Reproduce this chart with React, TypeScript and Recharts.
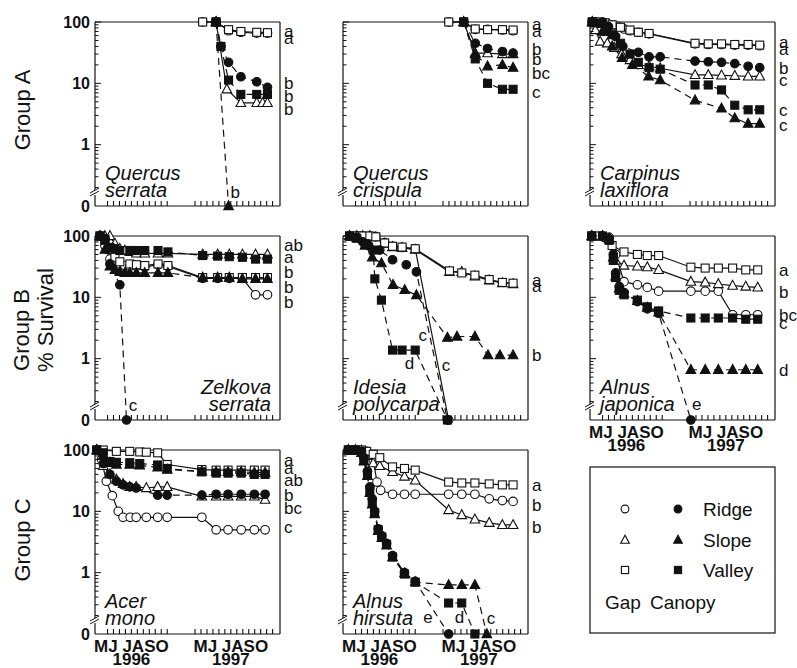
import React from "react";
import { LineChart, Line, XAxis, YAxis, ReferenceDot } from "recharts";

type Pt = [number, number];
type Letter = [number, string];
type Note = [number, number, string];

// x is the plotted month: 1996 May = 5 ... Oct = 10. The winter is squeezed,
// so 1997 months sit at (month + 8.33), e.g. 1997 May = 13.33.
// y is % survival; 0 is drawn at the axis break (the 0.1 position of the log axis).
const xTicks = [
  5.5, 6, 6.5, 7, 7.5, 8, 8.5, 9, 9.5, 10, 10.5,
  12.83, 13.33, 13.83, 14.33, 14.83, 15.33, 15.83, 16.33, 16.83, 17.33, 17.83, 18.33, 18.83, 19.33,
];
const monthLabel = "MJ JASO";
const yearLabels = ["1996", "1997"];
const yearTickPos = [7.5, 15.83];
const yTicks = [
  0.1, 0.2, 0.3, 0.4, 0.5, 0.6, 0.7, 0.8, 0.9,
  1, 2, 3, 4, 5, 6, 7, 8, 9,
  10, 20, 30, 40, 50, 60, 70, 80, 90, 100,
];
const groupLabels = ["Group A", "Group B", "Group C"];
const yTitle = "% Survival";
const legendRows = ["Ridge", "Slope", "Valley"];
const legendFoot = ["Gap", "Canopy"];

// ---- Group A: Quercus serrata
const qsGapRidge: Pt[] = [[13.47, 100], [14.59, 100], [15.64, 72], [16.67, 68], [18.0, 66], [18.9, 66]];
const qsGapSlope: Pt[] = [[14.59, 100], [15.5, 8], [16.67, 4.8], [18.0, 4.8], [18.5, 4.8], [18.9, 4.8]];
const qsGapValley: Pt[] = [[13.47, 100], [14.59, 100], [15.64, 75], [16.67, 70], [18.0, 68], [18.9, 67]];
const qsCanRidge: Pt[] = [[14.59, 100], [15.0, 40], [15.64, 22], [16.67, 12.8], [18.0, 10.6], [18.9, 8.6]];
const qsCanSlope: Pt[] = [[14.59, 100], [15.64, 0]];
const qsCanValley: Pt[] = [[14.59, 100], [15.0, 40], [15.64, 11.3], [16.67, 6.6], [18.0, 6.6], [18.9, 6.6]];
const qsLetters: Letter[] = [[72, "a"], [56, "a"], [10, "b"], [6.2, "b"], [3.9, "b"]];
const qsNotes: Note[] = [[16.2, 0.17, "b"]];

// ---- Group A: Quercus crispula
const qcGapRidge: Pt[] = [[13.31, 100], [14.56, 100], [15.53, 76], [16.56, 76], [17.81, 74], [18.7, 72]];
const qcGapSlope: Pt[] = [[14.56, 100], [15.53, 31], [16.56, 31], [17.81, 30], [18.7, 30]];
const qcGapValley: Pt[] = [[13.31, 100], [14.56, 100], [15.53, 77], [16.56, 75], [17.81, 75], [18.7, 74]];
const qcCanRidge: Pt[] = [[14.56, 100], [15.53, 45], [16.56, 37], [17.81, 33], [18.7, 31]];
const qcCanSlope: Pt[] = [[14.56, 100], [15.53, 30], [16.56, 19], [17.81, 20], [18.7, 18]];
const qcCanValley: Pt[] = [[14.56, 100], [15.53, 25], [16.56, 10], [17.81, 8], [18.7, 8]];
const qcLetters: Letter[] = [[92, "a"], [72, "a"], [37, "b"], [24.6, "b"], [15, "bc"], [7.3, "c"]];

// ---- Group A: Carpinus laxiflora
const clGapRidge: Pt[] = [[4.64, 100], [5.0, 100], [5.5, 98], [5.9, 95], [6.3, 90], [6.75, 85], [7.3, 77], [7.8, 72], [8.5, 68], [9.4, 64], [13.25, 44], [14.36, 43], [15.47, 43], [16.58, 42], [17.7, 42], [18.67, 41]];
const clGapSlope: Pt[] = [[4.64, 100], [4.9, 74], [5.3, 48], [5.9, 45], [6.5, 38], [7.1, 30], [7.8, 24], [8.5, 20], [9.4, 19], [10.33, 17.6], [13.25, 13.7], [14.36, 13.7], [15.47, 13.5], [16.58, 13.3], [17.7, 13], [18.67, 13]];
const clGapValley: Pt[] = [[4.64, 100], [5.2, 100], [5.7, 97], [6.3, 90], [7.0, 82], [7.8, 74], [8.5, 68], [9.4, 65], [13.25, 45], [14.36, 44], [15.47, 44], [16.58, 43], [17.7, 43], [18.67, 42]];
const clCanRidge: Pt[] = [[4.64, 100], [5.5, 100], [6.0, 84], [6.6, 58], [7.2, 40], [8.5, 32], [9.4, 27], [10.33, 27], [13.25, 23], [14.36, 22.5], [15.47, 22], [16.58, 21], [17.7, 19], [18.67, 18]];
const clCanSlope: Pt[] = [[4.64, 100], [5.48, 70], [6.31, 40], [7.14, 26], [8.0, 20], [9.36, 13], [10.33, 11.3], [13.25, 5.3], [15.47, 3.9], [16.58, 2.7], [17.7, 2.2], [18.67, 2.2]];
const clCanValley: Pt[] = [[4.64, 100], [5.3, 95], [5.8, 70], [6.3, 62], [7.0, 45], [7.8, 30], [8.5, 22], [9.4, 18], [10.33, 17], [13.25, 9.4], [14.36, 9.4], [15.47, 7.8], [16.58, 4.4], [17.7, 3.7], [18.67, 3.7]];
const clLetters: Letter[] = [[47.7, "a"], [37, "a"], [17.6, "b"], [11.3, "c"], [3.7, "c"], [2.1, "c"]];

// ---- Group B: Zelkova serrata
const zsGapRidge: Pt[] = [[4.87, 100], [5.28, 70], [5.7, 42], [6.12, 40], [6.53, 35], [6.95, 33], [7.37, 32], [7.92, 32], [8.62, 31], [9.73, 34], [10.56, 32], [13.47, 20.4], [14.72, 20.4], [15.7, 20.4], [16.8, 20.4], [17.9, 11], [18.9, 11]];
const zsGapSlope: Pt[] = [[4.87, 100], [5.28, 100], [5.7, 100], [6.12, 75], [6.53, 62], [6.95, 58], [7.37, 55], [7.92, 52], [8.62, 52], [9.73, 52], [10.56, 52], [13.47, 50], [14.72, 50], [15.7, 50], [16.8, 50], [17.9, 50], [18.9, 50]];
const zsGapValley: Pt[] = [[4.87, 100], [5.28, 90], [5.7, 60], [6.12, 45], [6.53, 38], [7.37, 35], [7.92, 34], [8.62, 33], [9.73, 35], [10.56, 33], [13.47, 21], [14.72, 21], [15.7, 21], [16.8, 21], [17.9, 21], [18.9, 21]];
const zsCanRidge: Pt[] = [[4.87, 100], [5.28, 90], [5.7, 35], [6.53, 16], [7.09, 0]];
const zsCanSlope: Pt[] = [[4.87, 100], [5.28, 60], [5.7, 32], [6.12, 28], [6.53, 26], [6.95, 25], [7.37, 25], [7.92, 25], [8.62, 25], [9.73, 25], [10.56, 25], [13.47, 21], [14.72, 21], [15.7, 21], [16.8, 20], [17.9, 20], [18.9, 20]];
const zsCanValley: Pt[] = [[4.87, 100], [5.28, 85], [5.7, 65], [6.12, 62], [6.53, 58], [7.37, 58], [7.92, 58], [8.62, 58], [9.73, 58], [10.56, 55], [13.47, 48], [14.72, 47], [15.7, 46], [16.8, 45], [17.9, 42], [18.9, 42]];
const zsLetters: Letter[] = [[71, "ab"], [45, "a"], [26, "b"], [14.7, "b"], [8.4, "b"]];
const zsNotes: Note[] = [[7.64, 0.175, "c"]];

// ---- Group B: Idesia polycarpa
const ipGapRidge: Pt[] = [[5.0, 100], [5.6, 100], [6.1, 100], [6.7, 100], [7.2, 98], [7.94, 78], [8.6, 68], [9.4, 65], [10.5, 62], [13.3, 0]];
const ipGapSlope: Pt[] = [[5.0, 100], [5.6, 100], [6.1, 100], [6.7, 100], [7.2, 96], [7.94, 75], [8.6, 66], [9.4, 64], [10.5, 60], [13.37, 26], [14.4, 26], [15.5, 22], [16.7, 19], [17.8, 17], [18.7, 16.5]];
const ipGapValley: Pt[] = [[5.0, 100], [5.6, 100], [6.1, 100], [6.7, 100], [7.2, 97], [7.94, 77], [8.6, 68], [9.4, 66], [10.5, 62], [13.37, 27], [14.4, 25], [15.5, 23], [16.7, 19.5], [17.8, 17.5], [18.7, 17]];
const ipCanRidge: Pt[] = [[5.0, 100], [5.6, 95], [6.1, 80], [6.6, 70], [7.53, 59], [8.6, 41], [9.75, 34], [10.6, 26], [13.2, 0]];
const ipCanSlope: Pt[] = [[5.0, 100], [5.6, 92], [6.3, 70], [6.9, 45], [7.67, 36], [8.64, 16], [9.62, 13.2], [10.6, 10.9], [13.2, 2.2], [14.0, 2.3], [15.5, 2.3], [16.6, 1.14], [17.6, 1.14], [18.7, 1.14]];
const ipCanValley: Pt[] = [[5.0, 100], [5.6, 92], [6.3, 75], [6.98, 59], [7.12, 20], [7.67, 9], [8.6, 1.38], [9.4, 1.38], [10.5, 1.38], [13.2, 0]];
const ipLetters: Letter[] = [[19, "a"], [15.5, "a"], [1.14, "b"]];
const ipNotes: Note[] = [[11.14, 2.4, "c"], [13.09, 0.79, "c"], [10.03, 0.84, "d"]];

// ---- Group B: Alnus japonica
const ajGapRidge: Pt[] = [[4.6, 100], [5.5, 100], [6.06, 95], [6.6, 50], [7.3, 18], [8.42, 16], [9.25, 14.5], [10.2, 12.6], [12.9, 12.6], [14.1, 12.6], [15.2, 12.6], [16.4, 5.2], [17.5, 5.2], [18.5, 5.2]];
const ajGapSlope: Pt[] = [[4.6, 100], [5.5, 100], [6.06, 90], [6.6, 40], [7.3, 33], [8.42, 32], [9.25, 31], [10.2, 28], [12.9, 18], [14.1, 17.5], [15.2, 16.5], [16.4, 15.5], [17.5, 15], [18.5, 14.5]];
const ajGapValley: Pt[] = [[4.6, 100], [5.23, 100], [5.8, 95], [6.3, 70], [7.3, 55], [8.42, 50], [9.25, 48], [10.2, 48], [12.9, 31], [14.1, 30], [15.2, 30], [16.4, 30], [17.5, 28], [18.5, 28]];
const ajCanRidge: Pt[] = [[4.6, 100], [5.5, 100], [6.06, 90], [6.4, 50], [6.6, 25], [6.9, 15], [7.3, 12], [8.42, 8.5], [9.25, 6.5], [10.2, 5.5], [12.9, 0]];
const ajCanSlope: Pt[] = [[4.6, 100], [5.5, 100], [6.06, 88], [6.4, 45], [6.6, 22], [6.9, 14], [7.3, 11.5], [8.42, 8.8], [9.25, 6.8], [10.2, 5.7], [12.9, 0.66], [14.1, 0.66], [15.2, 0.66], [16.4, 0.66], [17.5, 0.66], [18.5, 0.66]];
const ajCanValley: Pt[] = [[4.6, 100], [5.5, 100], [6.06, 85], [6.4, 40], [6.6, 21], [6.9, 13], [7.3, 11], [8.42, 9], [9.25, 7], [10.2, 6], [12.9, 4.6], [14.1, 4.6], [15.2, 4.6], [16.4, 4.6], [17.5, 4.4], [18.5, 4.4]];
const ajLetters: Letter[] = [[27.7, "a"], [12.4, "b"], [5.2, "bc"], [3.9, "c"], [0.66, "d"]];
const ajNotes: Note[] = [[13.4, 0.18, "e"]];

// ---- Group C: Acer mono
const amGapRidge: Pt[] = [[4.6, 100], [5.0, 70], [5.4, 31], [5.9, 18], [6.4, 10], [6.8, 8], [7.4, 8], [7.9, 8], [8.75, 8], [9.7, 8], [10.5, 8], [13.4, 8], [14.6, 5], [15.6, 5], [16.7, 5], [17.8, 5], [18.7, 5]];
const amGapSlope: Pt[] = [[4.6, 100], [5.14, 55], [5.7, 40], [6.24, 33], [6.8, 28], [7.36, 25], [7.9, 25], [8.75, 24], [9.7, 25], [10.5, 25], [13.4, 17.5], [14.6, 17.5], [15.6, 17.5], [16.7, 17.5], [17.8, 17.5], [18.7, 15.5]];
const amGapValley: Pt[] = [[4.6, 100], [5.14, 100], [6.24, 95], [7.36, 95], [8.2, 93], [8.75, 92], [9.7, 90], [10.5, 58], [13.4, 48], [14.6, 47], [15.6, 47], [16.7, 47], [17.8, 47], [18.7, 47]];
const amCanRidge: Pt[] = [[4.6, 100], [5.14, 60], [5.7, 40], [6.24, 31], [6.8, 27], [7.36, 25], [7.9, 24], [9.7, 18.4], [10.5, 18.4], [13.4, 18.4], [14.6, 19], [15.6, 19], [16.7, 19], [17.8, 19], [18.7, 19]];
const amCanSlope: Pt[] = [[4.6, 100], [5.14, 80], [5.7, 62], [6.24, 58], [7.36, 58], [8.2, 56], [9.7, 52], [10.5, 48], [13.4, 45], [14.6, 44], [15.6, 44], [16.7, 44], [17.8, 43], [18.7, 43]];
const amCanValley: Pt[] = [[4.6, 100], [5.14, 90], [5.7, 65], [6.24, 63], [7.36, 62], [8.2, 60], [9.7, 57], [10.5, 50], [13.4, 44], [14.6, 42], [15.6, 42], [16.7, 42], [17.8, 40], [18.7, 40]];
const amLetters: Letter[] = [[69, "a"], [51, "a"], [32, "ab"], [18.4, "b"], [11.3, "bc"], [5.5, "c"]];

// ---- Group C: Alnus hirsuta
const ahGapRidge: Pt[] = [[4.9, 100], [5.5, 100], [6.0, 98], [6.43, 95], [6.98, 70], [7.3, 30], [7.6, 22], [8.6, 19], [9.6, 19], [10.5, 19], [13.3, 19], [14.4, 19], [15.5, 19], [16.7, 16], [17.8, 15], [18.7, 14.5]];
const ahGapSlope: Pt[] = [[4.9, 100], [5.5, 100], [6.0, 98], [6.43, 80], [6.98, 61], [7.53, 55], [8.6, 44], [9.6, 37], [10.5, 32], [13.3, 10.5], [14.4, 8.7], [15.5, 7.4], [16.7, 6.5], [17.8, 6], [18.7, 6]];
const ahGapValley: Pt[] = [[4.9, 100], [5.5, 100], [6.0, 100], [6.43, 95], [6.98, 85], [7.53, 75], [8.6, 53], [9.6, 50], [10.5, 47], [13.3, 30], [14.4, 29], [15.5, 29], [16.7, 28], [17.8, 27], [18.7, 27]];
const ahCanRidge: Pt[] = [[4.9, 100], [5.5, 100], [6.0, 95], [6.2, 75], [6.5, 45], [6.7, 25], [6.9, 16], [7.1, 10], [7.4, 5.2], [7.7, 4], [8.1, 3], [8.6, 1.9], [9.6, 1.0], [10.5, 0.72], [13.3, 0]];
const ahCanSlope: Pt[] = [[4.9, 100], [5.5, 98], [6.0, 90], [6.2, 65], [6.5, 38], [6.7, 20], [6.9, 13], [7.1, 9], [7.4, 4.8], [7.7, 3.7], [8.1, 2.8], [8.6, 1.8], [9.6, 0.98], [10.5, 0.7], [13.3, 0.63], [14.4, 0.63], [15.5, 0.63], [16.5, 0]];
const ahCanValley: Pt[] = [[4.9, 100], [5.5, 100], [6.0, 92], [6.2, 70], [6.5, 40], [6.7, 22], [6.9, 14], [7.1, 9.5], [7.4, 5], [7.7, 3.8], [8.1, 2.9], [8.6, 1.8], [9.6, 0.95], [10.5, 0.7], [13.3, 0.32], [14.4, 0.32], [15.5, 0]];
const ahLetters: Letter[] = [[27, "a"], [12.6, "b"], [5.6, "b"]];
const ahNotes: Note[] = [[11.56, 0.19, "e"], [14.2, 0.19, "d"], [16.84, 0.18, "c"]];

// plot box size and the room round it
const W = 185;
const H = 184;
const YW = 60; // left axis box
const RW = 24; // right axis box (letters)
const XH = 40; // bottom axis box
const TH = 2; // top axis box
const PAD = 8;
const X_DOMAIN: [number, number] = [4.45, 19.95];
const INK = "#111";
const FONT = "'Liberation Sans', Arial, Helvetica, sans-serif";

type Shape = "circle" | "triangle" | "square";
const styles: { key: string; shape: Shape; filled: boolean; dashed: boolean }[] = [
  { key: "gapRidge", shape: "circle", filled: false, dashed: false },
  { key: "gapSlope", shape: "triangle", filled: false, dashed: false },
  { key: "gapValley", shape: "square", filled: false, dashed: false },
  { key: "canRidge", shape: "circle", filled: true, dashed: true },
  { key: "canSlope", shape: "triangle", filled: true, dashed: true },
  { key: "canValley", shape: "square", filled: true, dashed: true },
];

interface PanelDef {
  id: string;
  left: number;
  top: number;
  name: [string, string];
  nameRight?: boolean;
  series: Record<string, Pt[]>;
  letters: Letter[];
  notes?: Note[];
  yLabels?: boolean;
  xLabels?: boolean;
}

const panels: PanelDef[] = [
  { id: "qs", left: 95, top: 22, name: ["Quercus", "serrata"], yLabels: true, letters: qsLetters, notes: qsNotes,
    series: { gapRidge: qsGapRidge, gapSlope: qsGapSlope, gapValley: qsGapValley, canRidge: qsCanRidge, canSlope: qsCanSlope, canValley: qsCanValley } },
  { id: "qc", left: 343, top: 22, name: ["Quercus", "crispula"], letters: qcLetters,
    series: { gapRidge: qcGapRidge, gapSlope: qcGapSlope, gapValley: qcGapValley, canRidge: qcCanRidge, canSlope: qcCanSlope, canValley: qcCanValley } },
  { id: "cl", left: 590, top: 22, name: ["Carpinus", "laxiflora"], letters: clLetters,
    series: { gapRidge: clGapRidge, gapSlope: clGapSlope, gapValley: clGapValley, canRidge: clCanRidge, canSlope: clCanSlope, canValley: clCanValley } },
  { id: "zs", left: 95, top: 236, name: ["Zelkova", "serrata"], nameRight: true, yLabels: true, letters: zsLetters, notes: zsNotes,
    series: { gapRidge: zsGapRidge, gapSlope: zsGapSlope, gapValley: zsGapValley, canRidge: zsCanRidge, canSlope: zsCanSlope, canValley: zsCanValley } },
  { id: "ip", left: 343, top: 236, name: ["Idesia", "polycarpa"], letters: ipLetters, notes: ipNotes,
    series: { gapRidge: ipGapRidge, gapSlope: ipGapSlope, gapValley: ipGapValley, canRidge: ipCanRidge, canSlope: ipCanSlope, canValley: ipCanValley } },
  { id: "aj", left: 590, top: 236, name: ["Alnus", "japonica"], xLabels: true, letters: ajLetters, notes: ajNotes,
    series: { gapRidge: ajGapRidge, gapSlope: ajGapSlope, gapValley: ajGapValley, canRidge: ajCanRidge, canSlope: ajCanSlope, canValley: ajCanValley } },
  { id: "am", left: 95, top: 450, name: ["Acer", "mono"], yLabels: true, xLabels: true, letters: amLetters,
    series: { gapRidge: amGapRidge, gapSlope: amGapSlope, gapValley: amGapValley, canRidge: amCanRidge, canSlope: amCanSlope, canValley: amCanValley } },
  { id: "ah", left: 343, top: 450, name: ["Alnus", "hirsuta"], xLabels: true, letters: ahLetters, notes: ahNotes,
    series: { gapRidge: ahGapRidge, gapSlope: ahGapSlope, gapValley: ahGapValley, canRidge: ahCanRidge, canSlope: ahCanSlope, canValley: ahCanValley } },
];

function Marker({ cx, cy, shape, filled, s = 1 }: { cx: number; cy: number; shape: Shape; filled: boolean; s?: number }) {
  const fill = filled ? INK : "#fff";
  if (cx == null || cy == null) return null;
  if (shape === "circle") return <circle cx={cx} cy={cy} r={4.3 * s} fill={fill} stroke={INK} strokeWidth={1.1} />;
  if (shape === "square")
    return <rect x={cx - 4 * s} y={cy - 4 * s} width={8 * s} height={8 * s} fill={fill} stroke={INK} strokeWidth={1.1} />;
  const h = 4.8 * s;
  return (
    <polygon
      points={`${cx},${cy - h - 0.5} ${cx - h},${cy + h * 0.75} ${cx + h},${cy + h * 0.75}`}
      fill={fill}
      stroke={INK}
      strokeWidth={1.1}
    />
  );
}

function toRows(pts: Pt[]) {
  return pts.map(([x, y]) => ({ x, y: y === 0 ? 0.1 : y }));
}

function XTick(props: any) {
  const { x, y, payload, withLabels } = props;
  const v = payload.value;
  const yi = yearTickPos.indexOf(v);
  return (
    <g>
      <line x1={x} x2={x} y1={y} y2={y - 5} stroke={INK} strokeWidth={1.1} />
      {withLabels && yi >= 0 && (
        <g fontFamily={FONT} fontSize={17} fontWeight="bold" fill={INK} textAnchor="middle">
          <text x={x} y={y + 18}>{monthLabel}</text>
          <text x={x} y={y + 31}>{yearLabels[yi]}</text>
        </g>
      )}
    </g>
  );
}

function YTick(props: any) {
  const { x, y, payload, withLabels } = props;
  const v = payload.value;
  const major = v === 0.1 || v === 1 || v === 10 || v === 100;
  return (
    <g>
      {v !== 0.1 && <line x1={x} x2={x + (major ? 6 : 3.5)} y1={y} y2={y} stroke={INK} strokeWidth={1} />}
      {withLabels && major && (
        <text x={x - 5} y={y} dy="0.36em" textAnchor="end" fontFamily={FONT} fontSize={16} fontWeight="bold" fill={INK}>
          {v === 0.1 ? "0" : v}
        </text>
      )}
      {v === 0.1 && (
        <g>
          <rect x={x - 2} y={y - 16} width={4} height={5} fill="#fff" />
          <line x1={x - 5} y1={y - 10} x2={x + 4} y2={y - 15} stroke={INK} strokeWidth={1} />
          <line x1={x - 5} y1={y - 13} x2={x + 4} y2={y - 18} stroke={INK} strokeWidth={1} />
        </g>
      )}
    </g>
  );
}

function Panel({ p }: { p: PanelDef }) {
  const ml = PAD + YW;
  const mt = PAD + TH;
  return (
    <div style={{ position: "absolute", left: p.left - ml, top: p.top - mt }}>
      <LineChart
        width={ml + W + RW + PAD}
        height={mt + H + XH + PAD}
        margin={{ left: PAD, right: PAD, top: PAD, bottom: PAD }}
      >
        <XAxis
          xAxisId="b"
          type="number"
          dataKey="x"
          domain={X_DOMAIN}
          ticks={xTicks}
          interval={0}
          height={XH}
          tickSize={0}
          tickMargin={0}
          tickLine={false}
          axisLine={{ stroke: INK, strokeWidth: 1.2 }}
          tick={(t: any) => <XTick {...t} withLabels={p.xLabels} />}
        />
        <XAxis
          xAxisId="t"
          orientation="top"
          type="number"
          domain={X_DOMAIN}
          height={TH}
          tick={false}
          tickLine={false}
          axisLine={{ stroke: INK, strokeWidth: 1.2 }}
        />
        <YAxis
          yAxisId="l"
          type="number"
          scale="log"
          domain={[0.1, 100]}
          ticks={yTicks}
          interval={0}
          width={YW}
          tickSize={0}
          tickMargin={0}
          tickLine={false}
          axisLine={{ stroke: INK, strokeWidth: 1.2 }}
          tick={(t: any) => <YTick {...t} withLabels={p.yLabels} />}
        />
        <YAxis
          yAxisId="r"
          orientation="right"
          type="number"
          scale="log"
          domain={[0.1, 100]}
          width={RW}
          tick={false}
          tickLine={false}
          axisLine={{ stroke: INK, strokeWidth: 1.2 }}
        />
        {styles.map((s) => (
          <Line
            key={s.key}
            xAxisId="b"
            yAxisId="l"
            data={toRows(p.series[s.key])}
            dataKey="y"
            stroke={INK}
            strokeWidth={1.2}
            strokeDasharray={s.dashed ? "7 5" : undefined}
            isAnimationActive={false}
            activeDot={false}
            dot={(d: any) => (
              <Marker key={`${p.id}-${s.key}-${d.index}`} cx={d.cx} cy={d.cy} shape={s.shape} filled={s.filled} />
            )}
          />
        ))}
        {(p.notes || []).map(([x, y, t], i) => (
          <ReferenceDot
            key={`n${i}`}
            xAxisId="b"
            yAxisId="l"
            x={x}
            y={y}
            r={0}
            ifOverflow="visible"
            shape={(d: any) => (
              <text x={d.cx} y={d.cy} dy="0.36em" textAnchor="middle" fontFamily={FONT} fontSize={17} fill={INK}>
                {t}
              </text>
            )}
          />
        ))}
        {p.letters.map(([v, t], i) => (
          <ReferenceDot
            key={`l${i}`}
            xAxisId="b"
            yAxisId="l"
            x={X_DOMAIN[1]}
            y={v}
            r={0}
            ifOverflow="visible"
            shape={(d: any) => (
              <text x={d.cx + 4} y={d.cy} dy="0.36em" fontFamily={FONT} fontSize={17} fill={INK}>
                {t}
              </text>
            )}
          />
        ))}
      </LineChart>
    </div>
  );
}

function Overlay() {
  const rowY = [509, 540, 570];
  const shapes: Shape[] = ["circle", "triangle", "square"];
  return (
    <svg width={797} height={668} style={{ position: "absolute", left: 0, top: 0, pointerEvents: "none" }}>
      <g fontFamily={FONT} fill={INK} fontSize={22} textAnchor="middle">
        <text transform="rotate(-90 30 110)" x={30} y={110}>{groupLabels[0]}</text>
        <text transform="rotate(-90 29 330)" x={29} y={330}>{groupLabels[1]}</text>
        <text transform="rotate(-90 53 320)" x={53} y={320}>{yTitle}</text>
        <text transform="rotate(-90 30 540)" x={30} y={540}>{groupLabels[2]}</text>
      </g>
      <g fontFamily={FONT} fill={INK} fontSize={20} fontStyle="italic">
        {panels.map((p) => {
          const x = p.nameRight ? p.left + W - 9 : p.left + 10;
          const anchor = p.nameRight ? "end" : "start";
          return (
            <g key={p.id} textAnchor={anchor}>
              <text x={x} y={p.top + 158}>{p.name[0]}</text>
              <text x={x} y={p.top + 175}>{p.name[1]}</text>
            </g>
          );
        })}
      </g>
      <rect x={590} y={467} width={185} height={166} fill="none" stroke={INK} strokeWidth={1.2} />
      {legendRows.map((r, i) => (
        <g key={r}>
          <Marker cx={625} cy={rowY[i]} shape={shapes[i]} filled={false} s={0.9} />
          <Marker cx={678} cy={rowY[i]} shape={shapes[i]} filled={true} s={0.9} />
          <text x={703} y={rowY[i]} dy="0.36em" fontFamily={FONT} fontSize={19} fill={INK}>{r}</text>
        </g>
      ))}
      <text x={605} y={609} fontFamily={FONT} fontSize={19} fill={INK}>{legendFoot[0]}</text>
      <text x={650} y={609} fontFamily={FONT} fontSize={19} fill={INK}>{legendFoot[1]}</text>
    </svg>
  );
}

export default function App() {
  return (
    <div style={{ position: "absolute", left: 0, top: 0, width: 797, height: 668, background: "#fff", fontFamily: FONT }}>
      {panels.map((p) => (
        <Panel key={p.id} p={p} />
      ))}
      <Overlay />
    </div>
  );
}
